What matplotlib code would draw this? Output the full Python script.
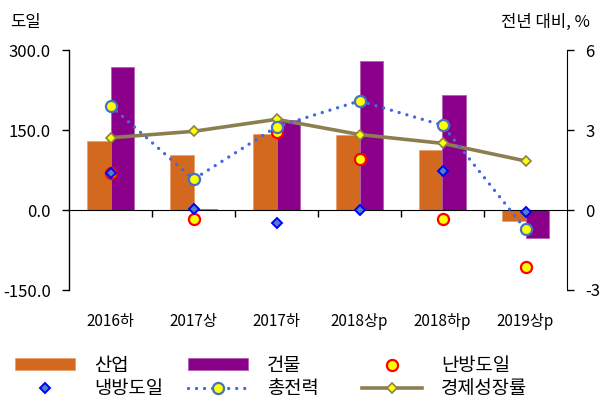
import numpy as np
import matplotlib
matplotlib.use("Agg")
import matplotlib.pyplot as plt
from matplotlib.ticker import FixedLocator, FormatStrFormatter

plt.rcParams['font.family'] = ['Noto Sans CJK KR', 'DejaVu Sans']
plt.rcParams['axes.unicode_minus'] = False

# ── Data ──────────────────────────────────────────────────────────────────────
categories = ["2016하", "2017상", "2017하", "2018상p", "2018하p", "2019상p"]
industry   = [130, 103, 142, 141, 112, -20]      # 산업 (left axis)
building   = [268, 2, 168, 279, 215, -52]        # 건물 (left axis)
heating_dd = [1.38, -0.34, 2.92, 1.92, -0.35, -2.15]   # 난방도일 (right axis)
cooling_dd = [1.40, 0.03, -0.50, 0.00, 1.47, -0.09]    # 냉방도일
total_pwr  = [3.91, 1.15, 3.12, 4.09, 3.18, -0.72]     # 총전력
gdp_growth = [2.71, 2.95, 3.40, 2.83, 2.50, 1.84]      # 경제성장률

C_IND  = "#D2691E"
C_BLD  = "#8B008B"
C_DOT  = "#4169E1"
C_GDP  = "#8C7F4F"

fig = plt.figure(figsize=(6.0, 3.98), dpi=100)
ax = fig.add_axes([69 / 600, 1 - 290 / 398, 498 / 600, 240 / 398])
ax2 = ax.twinx()

x = np.arange(len(categories))
bw = 0.28
b1 = ax.bar(x - bw / 2, industry, bw, color=C_IND, edgecolor="#E8A070", linewidth=0.6)
b2 = ax.bar(x + bw / 2, building, bw, color=C_BLD, edgecolor="#B060B0", linewidth=0.6)

ax.set_xlim(-0.5, len(categories) - 0.5)
ax.set_ylim(-150, 300)
ax.set_yticks([-150, 0, 150, 300])
ax.yaxis.set_major_formatter(FormatStrFormatter("%.1f"))
ax.tick_params(axis="y", direction="out", length=5, width=1, pad=8, labelsize=12)

# category boundaries as ticks on the zero line, labels far below
ax.xaxis.set_major_locator(FixedLocator(np.arange(0.5, len(categories) - 0.5, 1)))
ax.xaxis.set_major_formatter(plt.NullFormatter())
ax.xaxis.set_minor_locator(FixedLocator(x))
ax.set_xticklabels(categories, minor=True)
ax.tick_params(axis="x", which="major", direction="out", length=5, width=1)
ax.tick_params(axis="x", which="minor", length=0, pad=74, labelsize=11)

for s in ["top", "right"]:
    ax.spines[s].set_visible(False)
ax.spines["bottom"].set_position(("data", 0))
ax.spines["left"].set_linewidth(1)

# right axis series
ax2.set_ylim(-3, 6)
ax2.set_yticks([-3, 0, 3, 6])
ax2.tick_params(axis="y", direction="out", length=5, width=1, pad=8, labelsize=12)
for s in ["top", "bottom", "left"]:
    ax2.spines[s].set_visible(False)

l_gdp, = ax2.plot(x, gdp_growth, color=C_GDP, lw=2.6, marker="D", ms=5.5,
                  mfc="#FFFF00", mec=C_GDP, mew=1.2, zorder=3)
l_heat, = ax2.plot(x, heating_dd, ls="none", marker="o", ms=8, mfc="#FFFF00",
                   mec="#FF0000", mew=1.6, zorder=4)
l_tot, = ax2.plot(x, total_pwr, color=C_DOT, lw=2.4, ls=(0, (0.01, 2.4)),
                  dash_capstyle="round", marker="o", ms=8, mfc="#FFFF00",
                  mec="#4472C4", mew=1.6, zorder=5)
l_cool, = ax2.plot(x, cooling_dd, ls="none", marker="D", ms=5.5, mfc="#4F81BD",
                   mec="#0000FF", mew=1.4, zorder=6)

fig.text(10 / 600, 1 - 22 / 398, "도일", fontsize=12, ha="left", va="center")
fig.text(590 / 600, 1 - 22 / 398, "전년 대비, %", fontsize=12, ha="right", va="center")

# legend: three columns placed like the original
cols = [
    ([b1, l_cool], ["산업", "냉방도일"], 15),
    ([b2, l_tot], ["건물", "총전력"], 188),
    ([l_heat, l_gdp], ["난방도일", "경제성장률"], 362),
]
for hs, labs, px in cols:
    fig.legend(hs, labs, loc="upper left", bbox_to_anchor=(px / 600, 1 - 355 / 398),
               frameon=False, fontsize=13.5, handlelength=3.2, handleheight=0.6,
               handletextpad=1.0, borderpad=0, borderaxespad=0, labelspacing=0.1,
               numpoints=1)

fig.savefig("out.png", dpi=100)
